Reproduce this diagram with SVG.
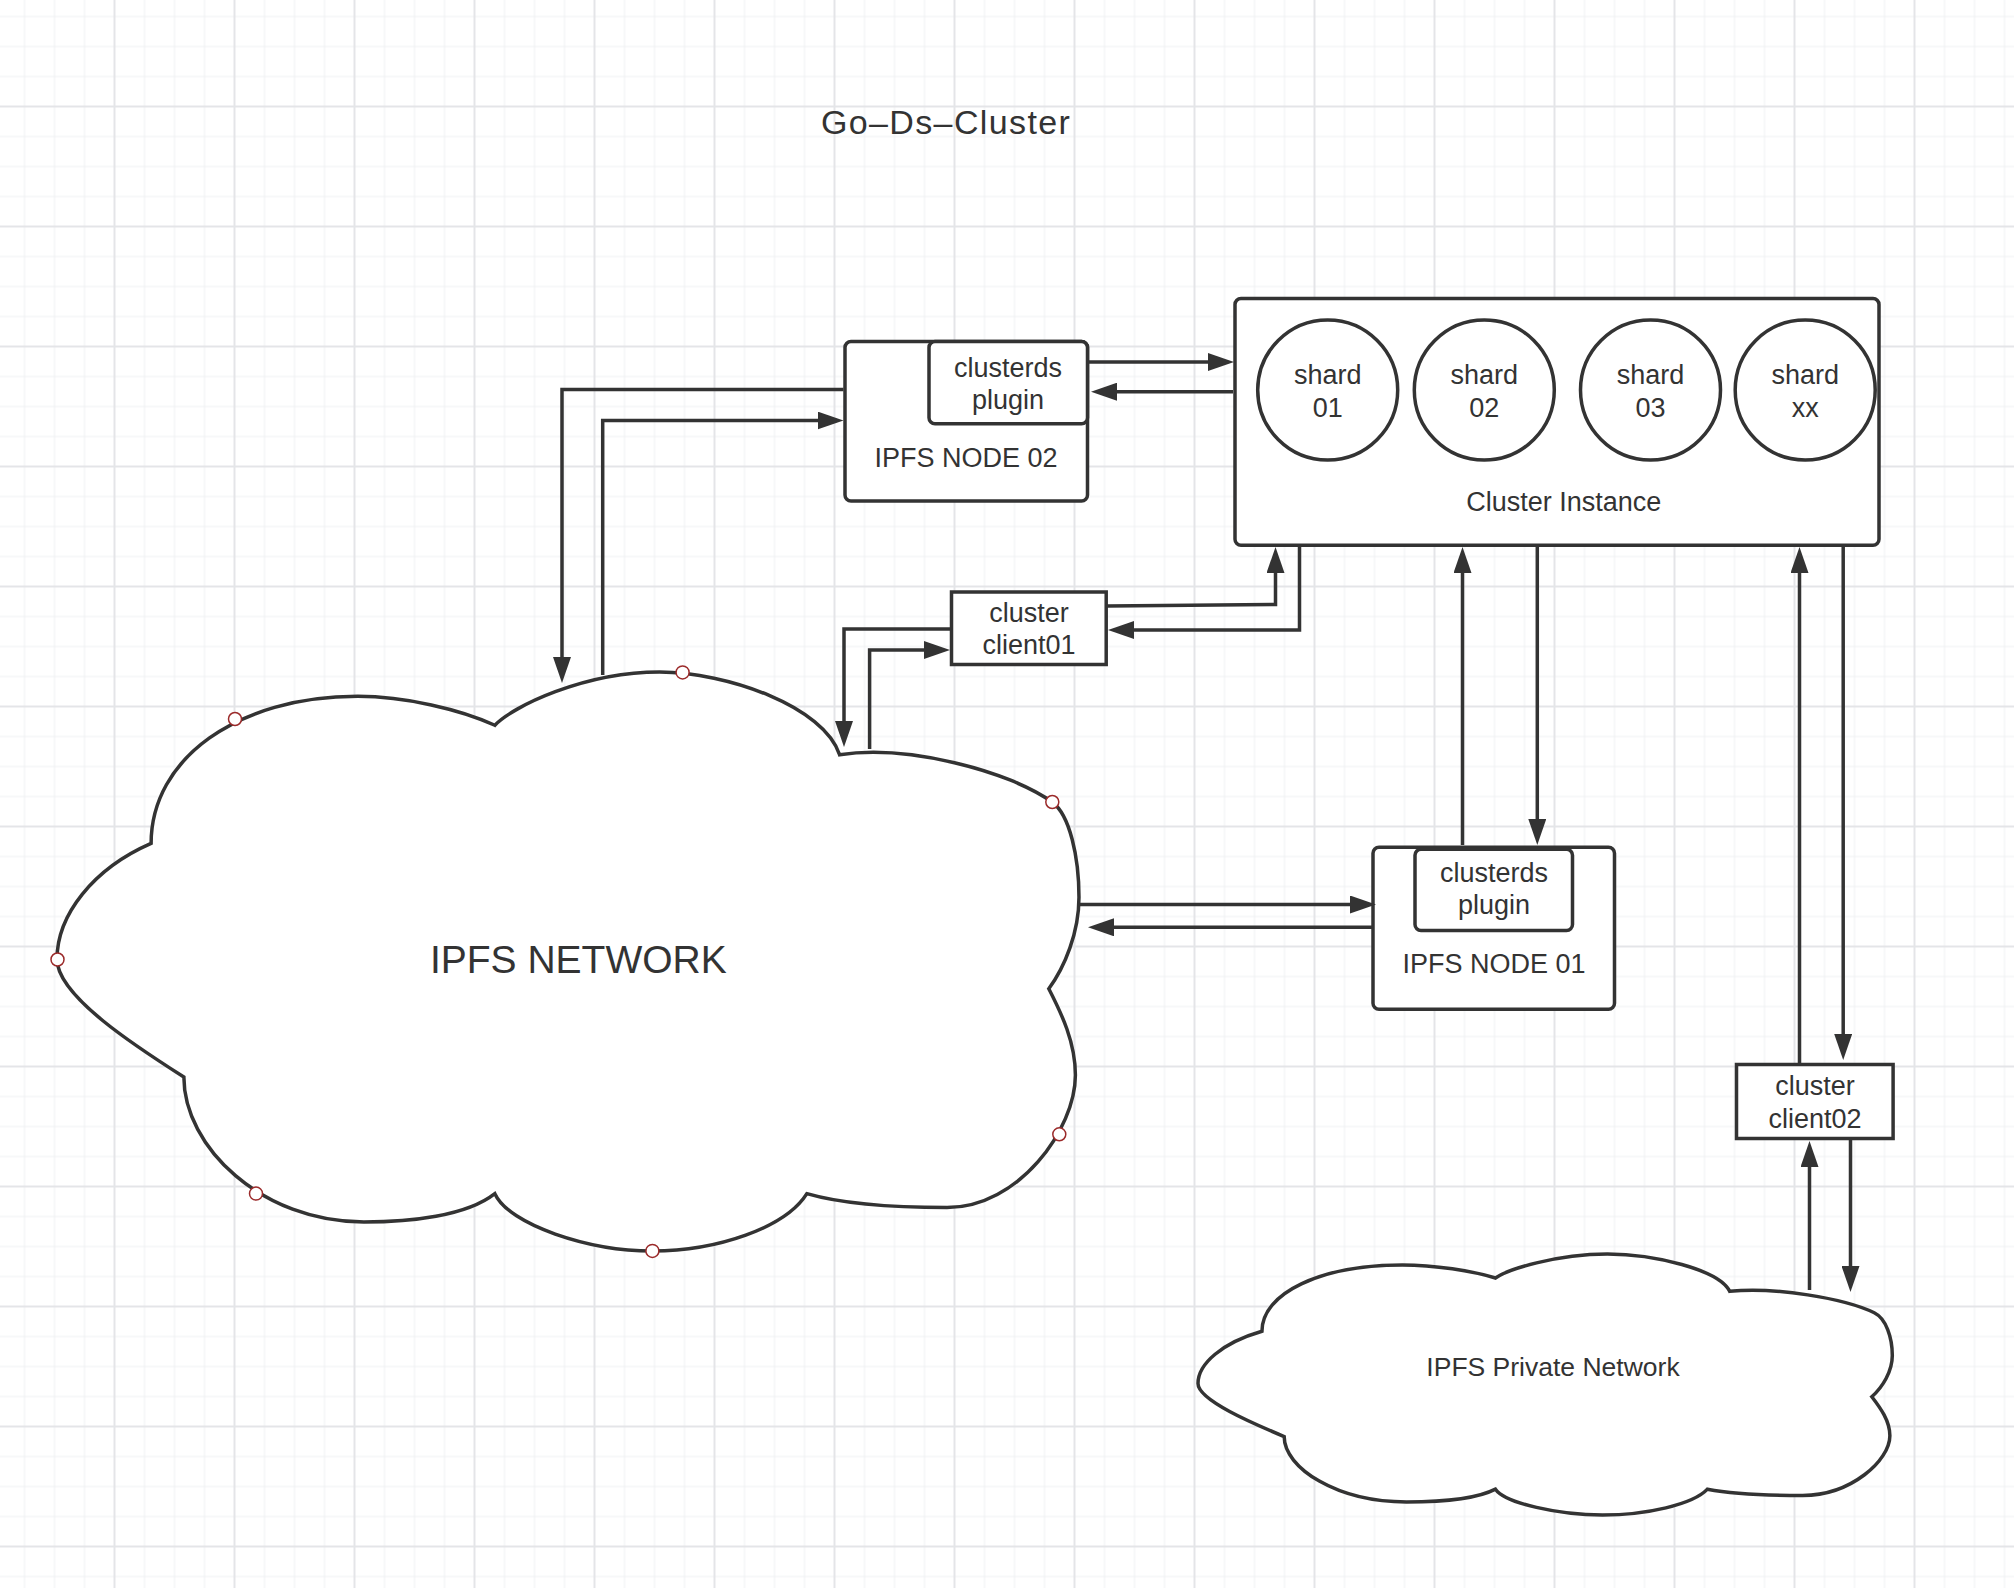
<svg xmlns="http://www.w3.org/2000/svg" width="2014" height="1588" viewBox="0 0 2014 1588">
  <defs>
    <style>
      .txt { font-family: "Liberation Sans", Arial, "Noto Sans", sans-serif; fill: #333333; text-anchor: middle; }
      .lbl { font-size: 27px; }
      .box { fill: #ffffff; stroke: #333333; stroke-width: 3.5; }
      .cloud { fill: #ffffff; stroke: #333333; stroke-width: 3.5; vector-effect: non-scaling-stroke; }
      .dot { fill: #ffffff; stroke: #9b2a2a; stroke-width: 1.5; }
      .conn { fill: none; stroke: #333333; stroke-width: 3.5; marker-end: url(#arrow); }
      .minor { stroke: #eff0f2; stroke-width: 1; }
      .major { stroke: #e4e5e8; stroke-width: 2; }
    </style>
    <pattern id="grid" x="39.5" y="31.5" width="120" height="120" patternUnits="userSpaceOnUse">
      <path class="minor" d="M15 0V120M45 0V120M105 0V120M0 15H120M0 45H120M0 105H120"/>
      <path class="major" d="M75 0V120M0 75H120"/>
    </pattern>
    <marker id="arrow" markerUnits="userSpaceOnUse" markerWidth="26" markerHeight="18" viewBox="0 0 26 18" refX="19" refY="9" orient="auto">
      <path d="M0,0 L26,9 L0,18 z" fill="#333333"/>
    </marker>
  </defs>

  <g id="background">
    <rect x="0" y="0" width="2014" height="1588" fill="#ffffff"/>
    <rect x="0" y="0" width="2014" height="1588" fill="url(#grid)"/>
  </g>

  <g id="title">
    <text class="txt" x="945.4" y="134" font-size="34" textLength="249" lengthAdjust="spacing">Go–Ds–Cluster</text>
  </g>

  <g id="ipfs-network">
    <path class="cloud" transform="translate(57,672) scale(1.023,0.579)" d="M92,296 C92,150 176,42 294,42 C340,42 395,65 428,92 C445,60 515,0 589,0 C655,0 750,60 765,143 C830,125 930,170 973,225 C990,247 999,320 999,389 C999,450 985,510 969.5,547 C982,590 995.5,640 995.5,696 C995.5,790 940,925 870,925 C820,925 770,920 733,901 C712,960 645,1000 582,1000 C520,1000 442,955 428,901 C400,940 345,950 300,950 C200,950 124,820 124,699.5 C80,650 0,560 0,496 C0,420 35,340 92,296 Z"/>
    <circle class="dot" cx="235" cy="719" r="6.5"/>
    <circle class="dot" cx="682.6" cy="672.4" r="6.5"/>
    <circle class="dot" cx="1052.3" cy="802" r="6.5"/>
    <circle class="dot" cx="57.5" cy="959.5" r="6.5"/>
    <circle class="dot" cx="1059.3" cy="1134.3" r="6.5"/>
    <circle class="dot" cx="256" cy="1193.6" r="6.5"/>
    <circle class="dot" cx="652.4" cy="1250.9" r="6.5"/>
    <text class="txt" x="578.3" y="972.7" font-size="39">IPFS NETWORK</text>
  </g>

  <g id="ipfs-private-network">
    <path class="cloud" transform="translate(1198,1254) scale(0.695,0.261)" d="M92,296 C92,150 176,42 294,42 C340,42 395,65 428,92 C445,60 515,0 589,0 C655,0 750,60 765,143 C830,125 930,170 973,225 C990,247 999,320 999,389 C999,450 985,510 969.5,547 C982,590 995.5,640 995.5,696 C995.5,790 940,925 870,925 C820,925 770,920 733,901 C712,960 645,1000 582,1000 C520,1000 442,955 428,901 C400,940 345,950 300,950 C200,950 124,820 124,699.5 C80,650 0,560 0,496 C0,420 35,340 92,296 Z"/>
    <text class="txt" x="1553" y="1376" font-size="26.5">IPFS Private Network</text>
  </g>

  <g id="ipfs-node-02">
    <rect class="box" x="845" y="341.5" width="242.5" height="159.5" rx="6"/>
    <rect class="box" x="929" y="341.5" width="158.5" height="82.3" rx="6"/>
    <text class="txt lbl" x="1008" y="376.7">clusterds</text>
    <text class="txt lbl" x="1008" y="408.7">plugin</text>
    <text class="txt lbl" x="966" y="467">IPFS NODE 02</text>
  </g>

  <g id="cluster-instance">
    <rect class="box" x="1235" y="298.5" width="644" height="246.7" rx="6"/>
    <g id="shard-01">
      <circle class="box" cx="1327.7" cy="390" r="70"/>
      <text class="txt lbl" x="1327.7" y="384">shard</text>
      <text class="txt lbl" x="1327.7" y="417">01</text>
    </g>
    <g id="shard-02">
      <circle class="box" cx="1484.3" cy="390" r="70"/>
      <text class="txt lbl" x="1484.3" y="384">shard</text>
      <text class="txt lbl" x="1484.3" y="417">02</text>
    </g>
    <g id="shard-03">
      <circle class="box" cx="1650.5" cy="390" r="70"/>
      <text class="txt lbl" x="1650.5" y="384">shard</text>
      <text class="txt lbl" x="1650.5" y="417">03</text>
    </g>
    <g id="shard-xx">
      <circle class="box" cx="1805.2" cy="390" r="70"/>
      <text class="txt lbl" x="1805.2" y="384">shard</text>
      <text class="txt lbl" x="1805.2" y="417">xx</text>
    </g>
    <text class="txt lbl" x="1563.7" y="510.7">Cluster Instance</text>
  </g>

  <g id="cluster-client01">
    <rect class="box" x="951.5" y="592" width="154.7" height="72.5"/>
    <text class="txt lbl" x="1029" y="621.7">cluster</text>
    <text class="txt lbl" x="1029" y="654.3">client01</text>
  </g>

  <g id="ipfs-node-01">
    <rect class="box" x="1373" y="847.2" width="241.5" height="162" rx="6"/>
    <rect class="box" x="1415" y="849.2" width="157.5" height="81.3" rx="6"/>
    <text class="txt lbl" x="1494" y="882.4">clusterds</text>
    <text class="txt lbl" x="1494" y="914.4">plugin</text>
    <text class="txt lbl" x="1494" y="972.7">IPFS NODE 01</text>
  </g>

  <g id="cluster-client02">
    <rect class="box" x="1736.5" y="1064.5" width="156.6" height="74"/>
    <text class="txt lbl" x="1815" y="1094.9">cluster</text>
    <text class="txt lbl" x="1815" y="1127.5">client02</text>
  </g>

  <g id="connectors">
    <path class="conn" d="M843.5,389.5 H562 V676"/>
    <path class="conn" d="M602.7,675 V420.5 H836.5"/>
    <path class="conn" d="M950,629 H844 V740"/>
    <path class="conn" d="M869.6,749 V650 H943"/>
    <path class="conn" d="M1107,606 L1275.5,604.5 V554"/>
    <path class="conn" d="M1299.5,547 V630 H1115"/>
    <path class="conn" d="M1088,362 H1227"/>
    <path class="conn" d="M1233,391.7 H1098"/>
    <path class="conn" d="M1462.5,845 V554"/>
    <path class="conn" d="M1537.3,547 V838"/>
    <path class="conn" d="M1079,904.5 H1369"/>
    <path class="conn" d="M1372,927.3 H1095"/>
    <path class="conn" d="M1799.5,1063 V554"/>
    <path class="conn" d="M1843.2,547 V1053"/>
    <path class="conn" d="M1809.5,1290 V1148"/>
    <path class="conn" d="M1850.5,1140 V1285"/>
  </g>
</svg>
